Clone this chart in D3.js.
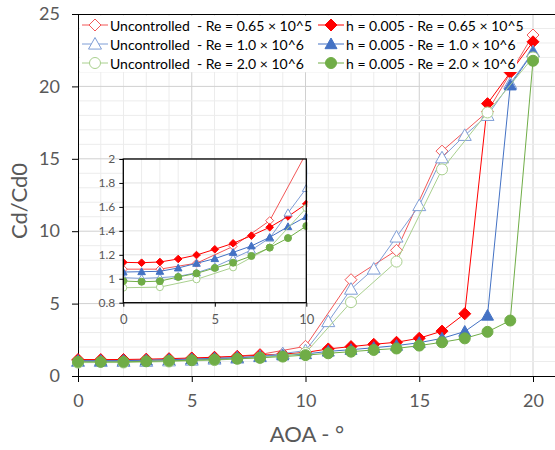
<!DOCTYPE html>
<html><head><meta charset="utf-8">
<script src="https://cdn.jsdelivr.net/npm/d3@7"></script>
<style>
html,body{margin:0;padding:0;background:#fff;}
svg{display:block;font-family:Lato,"Liberation Sans",sans-serif;}
</style></head>
<body>
<svg id="chart" width="555" height="450"></svg>
<script>
// ---- data ----
const aoaAll = [0,1,2,3,4,5,6,7,8,9,10,11,12,13,14,15,16,17,18,19,20];
const aoaEven = [0,2,4,6,8,10,12,14,16,18,20];
const unc065 = [1.08,1.08,1.13,1.27,1.485,2.05,6.65,8.68,15.53,18.26,23.55];
const unc10  = [1.009,1.003,1.009,1.02,1.05,1.10,1.17,1.24,1.34,1.55,1.755,3.76,6.0,7.39,9.6,11.77,15.07,16.62,18.0,20.2,22.4];
const unc20  = [0.925,0.93,0.995,1.095,1.26,1.59,5.1,7.9,14.27,18.2,22.0];
const ctl065 = [1.137,1.134,1.14,1.165,1.198,1.246,1.296,1.36,1.43,1.52,1.625,1.87,2.03,2.19,2.33,2.61,3.1,4.3,18.81,20.96,23.08];
const ctl10  = [1.056,1.059,1.062,1.09,1.129,1.168,1.22,1.274,1.346,1.435,1.52,1.7,1.82,1.95,2.1,2.3,2.6,3.07,4.18,20.08,22.35];
const ctl20  = [0.981,0.975,0.98,1.015,1.045,1.09,1.134,1.19,1.26,1.34,1.44,1.57,1.68,1.8,1.9,2.1,2.33,2.6,3.05,3.83,21.77];
const seriesNames = [
  "Uncontrolled  - Re = 0.65 × 10^5","h = 0.005 - Re = 0.65 × 10^5",
  "Uncontrolled  - Re = 1.0 × 10^6","h = 0.005 - Re = 1.0 × 10^6",
  "Uncontrolled  - Re = 2.0 × 10^6","h = 0.005 - Re = 2.0 × 10^6"];
const xTicks = [0,5,10,15,20];
const yTicks = [0,5,10,15,20,25];
const insetXTicks = [0,5,10];
const insetYTicks = [0.8,1,1.2,1.4,1.6,1.8,2];
const xTitle = "AOA - °";
const yTitle = "Cd/Cd0";

const series = [
  {name:seriesNames[0], x:aoaEven, y:unc065, color:"#f25757", shape:"diamond", filled:false},
  {name:seriesNames[1], x:aoaAll,  y:ctl065, color:"#ff0000", shape:"diamond", filled:true},
  {name:seriesNames[2], x:aoaAll,  y:unc10,  color:"#7f9ed6", shape:"triangle", filled:false},
  {name:seriesNames[3], x:aoaAll,  y:ctl10,  color:"#4472c4", shape:"triangle", filled:true},
  {name:seriesNames[4], x:aoaEven, y:unc20,  color:"#a9d08e", shape:"circle", filled:false},
  {name:seriesNames[5], x:aoaAll,  y:ctl20,  color:"#70ad47", shape:"circle", filled:true},
];

const svg = d3.select("#chart");
const tickColor = "#595959";

function shapePath(shape, s){
  if(shape==="diamond") return `M0,${-s}L${s},0L0,${s}L${-s},0Z`;
  if(shape==="triangle") return `M0,${-s}L${s},${s*0.78}L${-s},${s*0.78}Z`;
  return `M${s},0A${s},${s} 0 1,1 ${-s},0A${s},${s} 0 1,1 ${s},0Z`;
}

// ---- main scales ----
const x = d3.scaleLinear().domain([0,21]).range([78,555.75]);
const y = d3.scaleLinear().domain([0,25]).range([376,14]);

// gridlines
const g = svg.append("g");
g.selectAll(".vminor").data(d3.range(1,22)).join("line")
  .attr("x1",d=>x(d)).attr("x2",d=>x(d)).attr("y1",y(25)).attr("y2",y(0))
  .attr("stroke",d=>d%5===0?"#d0d0d0":"#ececec").attr("stroke-width",1);
g.selectAll(".hminor").data(d3.range(1,25)).join("line")
  .attr("x1",x(0)).attr("x2",x(21)).attr("y1",d=>y(d)).attr("y2",d=>y(d))
  .attr("stroke",d=>d%5===0?"#d0d0d0":"#ececec").attr("stroke-width",1);

// axes
const xAxis = d3.axisBottom(x).tickValues(xTicks).tickSize(6).tickPadding(12);
const gx = svg.append("g").attr("transform",`translate(0,${y(0)})`).call(xAxis);
gx.select(".domain").attr("stroke","#000").attr("d",`M72,0.5H556`);
gx.selectAll(".tick line").attr("stroke","#000");
gx.selectAll(".tick text").attr("fill",tickColor).style("font-size","18px").style("font-family","Lato");

const yAxis = d3.axisLeft(y).tickValues(yTicks).tickSize(6).tickPadding(12);
const gy = svg.append("g").attr("transform",`translate(${x(0)},0)`).call(yAxis);
gy.select(".domain").attr("stroke","#000").attr("d",`M0.5,${y(25)}V${y(0)+6}`);
gy.selectAll(".tick line").attr("stroke","#000");
gy.selectAll(".tick text").attr("fill",tickColor).style("font-size","18px").style("font-family","Lato");
// top border
svg.append("line").attr("x1",72).attr("x2",556).attr("y1",y(25)+0.5).attr("y2",y(25)+0.5).attr("stroke","#000");

// titles
svg.append("text").attr("x",307).attr("y",442).attr("text-anchor","middle")
  .attr("fill",tickColor).style("font-size","22px").text(xTitle);
svg.append("text").attr("transform",`translate(27,201) rotate(-90)`).attr("text-anchor","middle")
  .attr("fill",tickColor).style("font-size","22px").text(yTitle);

function drawSeries(group, xs, ys, sizeScale, clipId){
  series.forEach(s=>{
    const pts = s.x.map((v,i)=>[v,s.y[i]]);
    const line = d3.line().x(d=>xs(d[0])).y(d=>ys(d[1]));
    const sg = group.append("g");
    if(clipId) sg.attr("clip-path",`url(#${clipId})`);
    sg.append("path").attr("d",line(pts)).attr("fill","none").attr("stroke",s.color).attr("stroke-width",1);
    const size = s.filled ? sizeScale.f[s.shape] : sizeScale.o[s.shape];
    sg.selectAll(".m").data(pts.filter(p=>ys.domain()[0]<=p[1] && p[1]<=ys.domain()[1] && p[0]<=xs.domain()[1])).join("path")
      .attr("transform",d=>`translate(${xs(d[0])},${ys(d[1])})`)
      .attr("d",shapePath(s.shape,size))
      .attr("fill",s.filled?s.color:"#fff")
      .attr("stroke",s.color).attr("stroke-width",1);
  });
}

const mainSizes = {f:{diamond:6,triangle:6,circle:5.5}, o:{diamond:6,triangle:6.5,circle:5.5}};
drawSeries(svg.append("g"), x, y, mainSizes, null);

// ---- legend ----
const lg = svg.append("g");
lg.append("rect").attr("x",80).attr("y",16).attr("width",437).attr("height",56).attr("fill","#fff");
const legendCols = [82,318];
const legendRows = [25,44,63];
series.forEach((s,i)=>{
  const cx = legendCols[i%2], cy = legendRows[Math.floor(i/2)];
  const item = lg.append("g").attr("transform",`translate(${cx},${cy})`);
  item.append("line").attr("x1",0).attr("x2",26).attr("y1",0).attr("y2",0).attr("stroke",s.color);
  const size = s.filled ? mainSizes.f[s.shape] : mainSizes.o[s.shape];
  item.append("path").attr("transform","translate(13,0)").attr("d",shapePath(s.shape,size))
    .attr("fill",s.filled?s.color:"#fff").attr("stroke",s.color);
  item.append("text").attr("x",28).attr("y",5.5).attr("fill","#000").style("font-size","14px")
    .style("white-space","pre").text(s.name);
});

// ---- inset ----
const ix = d3.scaleLinear().domain([0,10]).range([123.3,306.3]);
const iy = d3.scaleLinear().domain([0.8,2]).range([302.7,159]);
const ig = svg.append("g");
ig.append("rect").attr("x",ix(0)).attr("y",iy(2)).attr("width",ix(10)-ix(0)).attr("height",iy(0.8)-iy(2)).attr("fill","#fff");
ig.selectAll(".iv").data(d3.range(1,10)).join("line")
  .attr("x1",d=>ix(d)).attr("x2",d=>ix(d)).attr("y1",iy(2)).attr("y2",iy(0.8))
  .attr("stroke",d=>d===5?"#d0d0d0":"#ececec");
ig.selectAll(".ih").data([1,1.2,1.4,1.6,1.8]).join("line")
  .attr("x1",ix(0)).attr("x2",ix(10)).attr("y1",d=>iy(d)).attr("y2",d=>iy(d))
  .attr("stroke","#e2e2e2");
const defs = svg.append("defs");
defs.append("clipPath").attr("id","insetClip").append("rect")
  .attr("x",ix(0)).attr("y",iy(2)).attr("width",ix(10)-ix(0)+1).attr("height",iy(0.8)-iy(2));
const insetSizes = {f:{diamond:3.8,triangle:3.8,circle:3.5}, o:{diamond:4,triangle:4,circle:3.5}};
drawSeries(ig.append("g"), ix, iy, insetSizes, "insetClip");
ig.append("rect").attr("x",ix(0)).attr("y",iy(2)).attr("width",ix(10)-ix(0)).attr("height",iy(0.8)-iy(2))
  .attr("fill","none").attr("stroke","#000").attr("stroke-width",1.3);
const igx = ig.append("g").attr("transform",`translate(0,${iy(0.8)})`)
  .call(d3.axisBottom(ix).tickValues(insetXTicks).tickSize(4).tickPadding(8).tickFormat(d3.format("d")));
igx.select(".domain").remove();
igx.selectAll(".tick line").attr("stroke","#000");
igx.selectAll(".tick text").attr("fill",tickColor).style("font-size","13px").style("font-family","Lato");
const igy = ig.append("g").attr("transform",`translate(${ix(0)},0)`)
  .call(d3.axisLeft(iy).tickValues(insetYTicks).tickSize(4).tickPadding(4).tickFormat(d=>String(+d.toFixed(1))));
igy.select(".domain").remove();
igy.selectAll(".tick line").attr("stroke","#000");
igy.selectAll(".tick text").attr("fill",tickColor).style("font-size","12px").style("font-family","Lato");
</script>
</body></html>
